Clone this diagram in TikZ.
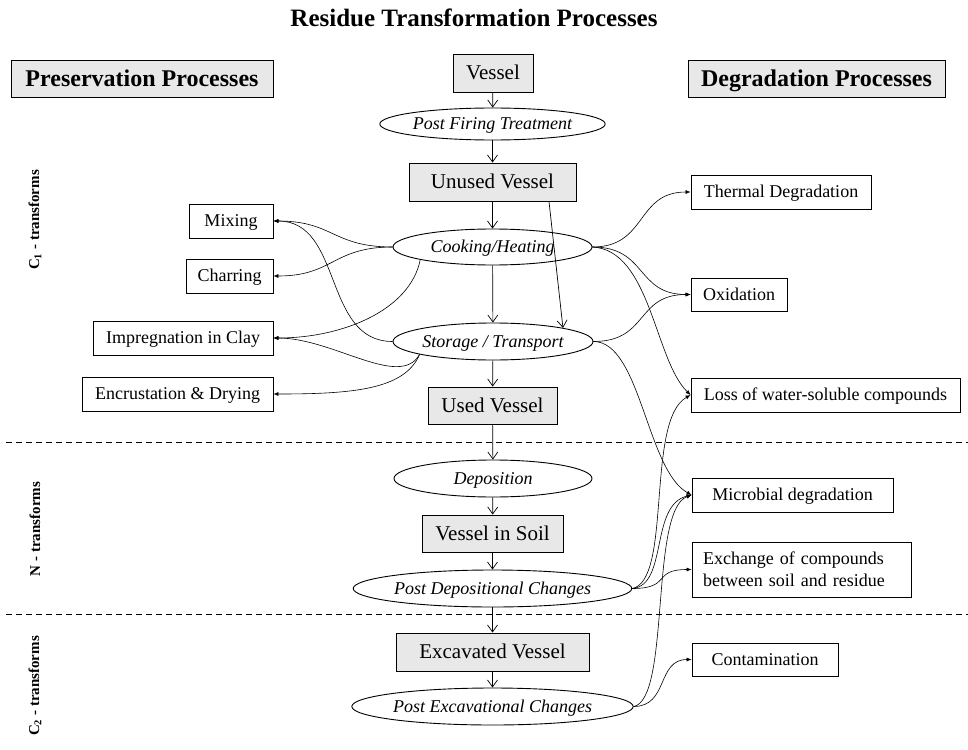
\documentclass[tikz,border=0pt]{standalone}
\usepackage{fontspec}
\setmainfont{Liberation Serif}
\usetikzlibrary{shapes.geometric,arrows.meta}
\definecolor{boxgray}{RGB}{232,232,232}
\begin{document}
\begin{tikzpicture}[x=1pt,y=-1pt,
  vbox/.style={draw, line width=0.9pt, fill=boxgray, inner sep=0pt, text height=13.9pt, text depth=0pt, font=\fontsize{21}{25}\selectfont},
  hbox/.style={draw, line width=0.9pt, fill=boxgray, inner sep=0pt, text height=15.9pt, text depth=0pt, font=\fontsize{24}{28}\selectfont\bfseries},
  proc/.style={ellipse, draw, line width=0.9pt, fill=white, inner sep=0pt, text height=11.9pt, text depth=0pt, font=\fontsize{18}{21}\selectfont\itshape},
  side/.style={draw, line width=0.8pt, inner sep=0pt, font=\fontsize{18}{21.7}\selectfont},
  one/.style={text height=11.9pt, text depth=0pt},
  flow/.style={-{Straight Barb[length=7pt,width=10pt]}, line width=0.7pt},
  link/.style={-{Latex[length=5pt,width=4pt]}, line width=0.6pt},
  sep/.style={line width=0.8pt, dash pattern=on 6pt off 4pt},
  lab/.style={rotate=90, font=\fontsize{15}{18}\selectfont\bfseries}
]
\useasboundingbox (0,0) rectangle (968,749);
\fill[white] (0,0) rectangle (968,749);

% title and headers
\node[font=\fontsize{25}{30}\selectfont\bfseries] (title) at (474,18) {Residue Transformation Processes};
\node[hbox, minimum width=262pt, minimum height=37pt] (pres) at (142,78.5) {Preservation Processes};
\node[hbox, minimum width=257pt, minimum height=37pt] (degr) at (816.5,78.5) {Degradation Processes};

% separators
\coordinate (s1a) at (6,442); \coordinate (s1b) at (968,442);
\coordinate (s2a) at (6,614); \coordinate (s2b) at (968,614);
\draw[sep] (s1a) -- (s1b);
\draw[sep] (s2a) -- (s2b);

% phase labels
\node[lab] (l1) at (35,220) {C\textsubscript{1} - transforms};
\node[lab] (l2) at (35,529) {N - transforms};
\node[lab] (l3) at (35,686) {C\textsubscript{2} - transforms};

% central column
\node[vbox, minimum width=80pt, minimum height=38pt] (vessel) at (493,73) {Vessel};
\node[proc, minimum width=197pt, minimum height=32pt] (pft) at (492.5,124) {Post Firing Treatment};
\node[vbox, minimum width=167pt, minimum height=38pt] (unused) at (492.5,182) {Unused Vessel};
\node[proc, minimum width=199pt, minimum height=36pt] (cook) at (492.5,247) {Cooking/Heating};
\node[proc, minimum width=200pt, minimum height=37pt] (stor) at (493,341.5) {Storage / Transport};
\node[vbox, minimum width=129pt, minimum height=37pt] (used) at (492.5,405.5) {Used Vessel};
\node[proc, minimum width=198pt, minimum height=37pt] (depo) at (493,478.5) {Deposition};
\node[vbox, minimum width=141pt, minimum height=37pt] (soil) at (492.5,533.5) {Vessel in Soil};
\node[proc, minimum width=233pt, minimum height=37pt] (pdep) at (492.5,588.5) {Post Depositional Changes};
\node[vbox, minimum width=193pt, minimum height=38pt] (exca) at (492.5,652) {Excavated Vessel};
\node[proc, minimum width=271pt, minimum height=37pt] (pexc) at (492.5,706.5) {Post Excavational Changes};

% left boxes
\node[side, one, minimum width=84pt, minimum height=34pt] (mix) at (231,221) {Mixing};
\node[side, one, minimum width=87pt, minimum height=34pt] (char) at (229.5,276) {Charring};
\node[side, one, minimum width=180pt, minimum height=34pt] (imp) at (183,338) {Impregnation in Clay};
\node[side, one, minimum width=191pt, minimum height=34pt] (enc) at (177.5,394) {Encrustation \& Drying};

% right boxes
\node[side, one, minimum width=180pt, minimum height=34pt] (therm) at (781,192) {Thermal Degradation};
\node[side, one, minimum width=96pt, minimum height=33pt] (oxi) at (739,294.5) {Oxidation};
\node[side, one, minimum width=269pt, minimum height=34pt] (loss) at (825.5,395) {Loss of water-soluble compounds};
\node[side, one, minimum width=201pt, minimum height=34pt] (micro) at (792.5,495) {Microbial degradation};
\node[side, text width=197pt, inner xsep=11pt, align=left, minimum height=55pt] (exch) at (801.5,569.5) {Exchange of compounds\\between soil and residue};
\node[side, one, minimum width=146pt, minimum height=33pt] (cont) at (765,659.5) {Contamination};

% central flow
\draw[flow] (vessel) -- (pft);
\draw[flow] (pft) -- (unused);
\draw[flow] (unused) -- (cook);
\draw[flow] (unused.-19.2) -- (stor.11);
\draw[flow] (cook) -- (stor);
\draw[flow] (stor) -- (used);
\draw[flow] (used) -- (depo);
\draw[flow] (depo) -- (soil);
\draw[flow] (soil) -- (pdep);
\draw[flow] (pdep) -- (exca);
\draw[flow] (exca) -- (pexc);

% preservation links
\draw[link] (cook.west) .. controls +(-60,0) and +(60,0) .. (mix.east);
\draw[link] (cook.west) .. controls +(-60,0) and +(60,0) .. (char.east);
\draw[link] (stor.west) .. controls +(-70,0) and +(70,0) .. (mix.east);
\draw[link] (cook.190) .. controls +(-10,50) and +(70,0) .. (imp.east);
\draw[link] (stor.190) .. controls +(-20,35) and +(60,0) .. (imp.east);
\draw[link] (stor.190) .. controls +(-15,35) and +(80,0) .. (enc.east);

% degradation links
\draw[link] (cook.east) .. controls +(55,0) and +(-55,0) .. (therm.west);
\draw[link] (cook.east) .. controls +(55,0) and +(-55,0) .. (oxi.west);
\draw[link] (cook.east) .. controls +(58,3) and +(-36,-35) .. (loss.west);
\draw[link] (stor.east) .. controls +(55,0) and +(-55,0) .. (oxi.west);
\draw[link] (stor.east) .. controls +(47,0) and +(-45,-25) .. (micro.west);
\draw[link] (pdep.east) .. controls +(40,-8) and +(-45,25) .. (loss.west);
\draw[link] (pdep.east) .. controls +(36,-3) and +(-42,10) .. (micro.west);
\draw[link] (pdep.east) .. controls +(40,0) and +(-40,0) .. (exch.west);
\draw[link] (pexc.east) .. controls +(37,-7) and +(-42,15) .. (micro.west);
\draw[link] (pexc.east) .. controls +(35,0) and +(-35,0) .. (cont.west);
\end{tikzpicture}
\end{document}
